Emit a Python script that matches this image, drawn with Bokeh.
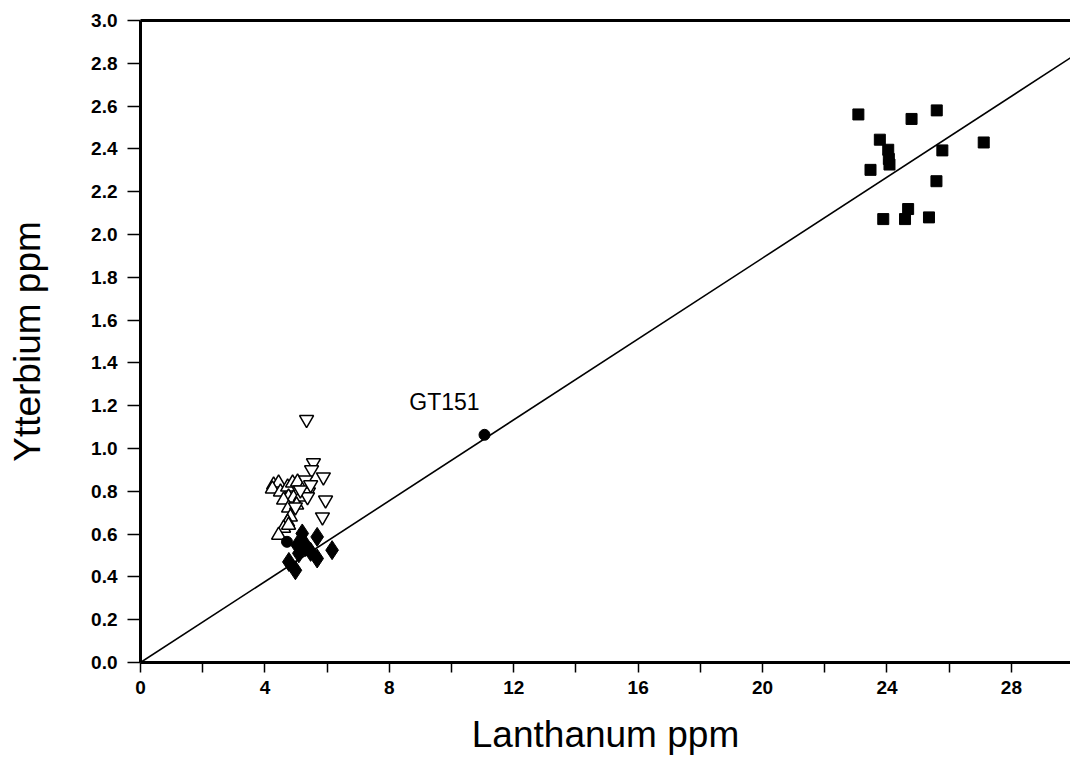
from bokeh.plotting import figure
from bokeh.models import Range1d, FixedTicker, PrintfTickFormatter, LinearAxis, Label
from bokeh.embed import file_html
from bokeh.resources import INLINE

# --- data (La ppm, Yb ppm) ---
sq_x = [23.08, 24.79, 25.60, 23.77, 24.04, 24.06, 24.08, 23.47, 25.78, 27.11, 25.59, 24.68, 23.88, 24.58, 25.35]
sq_y = [2.561, 2.540, 2.580, 2.443, 2.396, 2.353, 2.327, 2.302, 2.393, 2.430, 2.249, 2.119, 2.072, 2.072, 2.080]

up_x = [4.28, 4.44, 4.24, 4.50, 4.73, 4.89, 5.05, 4.76, 4.92, 5.14, 4.60, 4.76, 4.82, 4.73, 4.60, 4.44, 4.76, 5.02, 5.31]
up_y = [0.830, 0.839, 0.811, 0.797, 0.820, 0.839, 0.844, 0.774, 0.769, 0.774, 0.759, 0.722, 0.680, 0.656, 0.628, 0.595, 0.642, 0.736, 0.830]

dn_x = [5.34, 5.56, 5.50, 5.88, 5.31, 5.40, 5.37, 5.95, 5.85, 4.98, 5.14, 5.47]
dn_y = [1.135, 0.933, 0.900, 0.867, 0.853, 0.797, 0.774, 0.759, 0.680, 0.727, 0.806, 0.830]

dia_x = [5.20, 5.68, 5.04, 5.31, 5.09, 5.47, 5.68, 4.77, 4.98, 6.16, 5.25]
dia_y = [0.603, 0.587, 0.548, 0.540, 0.510, 0.517, 0.486, 0.470, 0.431, 0.525, 0.560]

circ_x = [4.71, 11.06]
circ_y = [0.564, 1.064]

gt_label = "GT151"
gt_x, gt_y = 11.06, 1.064

slope = 0.0945
line_x = [0, 30]
line_y = [v * slope for v in line_x]

x_major = [0, 4, 8, 12, 16, 20, 24, 28]
x_minor = [2, 6, 10, 14, 18, 22, 26]
y_ticks = [round(i * 0.2, 1) for i in range(16)]

p = figure(width=1070, height=758, output_backend="svg", toolbar_location=None,
           x_range=Range1d(0, 29.9), y_range=Range1d(0, 3.0),
           min_border_left=140, min_border_right=0, min_border_top=20, min_border_bottom=96)
p.outline_line_color = None
p.grid.visible = False
p.background_fill_color = "white"

# regression line
p.line(line_x, line_y, line_color="black", line_width=1.6)

# markers
p.scatter(up_x, up_y, marker="triangle", size=14, fill_color="white", line_color="black", line_width=1.5)
p.scatter(dn_x, dn_y, marker="inverted_triangle", size=14, fill_color="white", line_color="black", line_width=1.5)
p.scatter(dia_x, dia_y, marker="diamond", size=19, fill_color="black", line_color="black")
p.scatter(circ_x, circ_y, marker="circle", size=11, fill_color="black", line_color="black")
p.scatter(sq_x, sq_y, marker="square", size=11, fill_color="black", line_color="black")

p.add_layout(Label(x=gt_x, y=gt_y, text=gt_label, x_offset=-40, y_offset=20,
                   text_align="center", text_font="Liberation Sans", text_font_size="23px",
                   text_color="black"))

# axes styling
xa = p.xaxis[0]
xa.ticker = FixedTicker(ticks=x_major, minor_ticks=x_minor)
xa.axis_label = "Lanthanum ppm"
ya = p.yaxis[0]
ya.ticker = FixedTicker(ticks=y_ticks)
ya.formatter = PrintfTickFormatter(format="%.1f")
ya.axis_label = "Ytterbium ppm"

for ax in (xa, ya):
    ax.axis_line_width = 3
    ax.axis_line_color = "black"
    ax.major_tick_line_width = 1.5
    ax.minor_tick_line_width = 1.5
    ax.major_tick_in = 0
    ax.minor_tick_in = 0
    ax.major_label_text_font = "Liberation Sans"
    ax.major_label_text_font_style = "bold"
    ax.major_label_text_font_size = "19px"
    ax.major_label_text_color = "black"
    ax.axis_label_text_font = "Liberation Sans"
    ax.axis_label_text_font_style = "normal"
    ax.axis_label_text_font_size = "37px"
    ax.axis_label_text_color = "black"

xa.major_tick_out = 10
xa.minor_tick_out = 10
xa.major_label_standoff = 8
xa.axis_label_standoff = 17
ya.major_tick_out = 13
ya.minor_tick_out = 0
ya.major_label_standoff = 10
ya.axis_label_standoff = 40

top = LinearAxis(ticker=FixedTicker(ticks=[]), major_label_text_font_size="0px",
                 major_tick_out=0, minor_tick_out=0, axis_line_width=3, axis_line_color="black")
p.add_layout(top, "above")

open("out.html", "w").write(file_html(p, INLINE))
